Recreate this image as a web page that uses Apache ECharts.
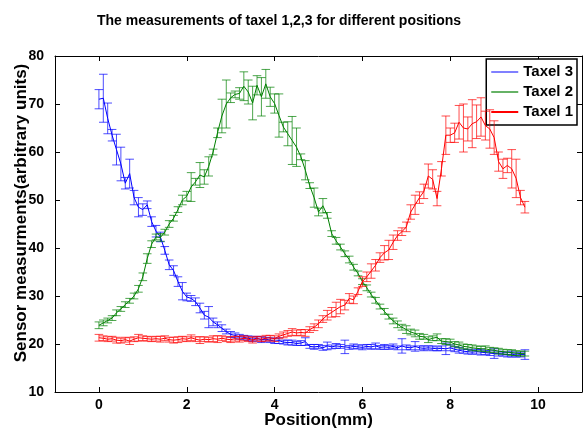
<!DOCTYPE html>
<html>
<head>
<meta charset="utf-8">
<script src="https://cdn.jsdelivr.net/npm/echarts@6/dist/echarts.min.js"></script>
<style>html,body{margin:0;padding:0;background:#fff}#c{width:587px;height:430px}</style>
</head>
<body>
<div id="c"></div>
<script>
const positions = [0,0.1,0.2,0.3,0.4,0.5,0.6,0.7,0.8,0.9,1.0,1.1,1.2,1.3,1.4,1.5,1.6,1.7,1.8,1.9,2.0,2.1,2.2,2.3,2.4,2.5,2.6,2.7,2.8,2.9,3.0,3.1,3.2,3.3,3.4,3.5,3.6,3.7,3.8,3.9,4.0,4.1,4.2,4.3,4.4,4.5,4.6,4.7,4.8,4.9,5.0,5.1,5.2,5.3,5.4,5.5,5.6,5.7,5.8,5.9,6.0,6.1,6.2,6.3,6.4,6.5,6.6,6.7,6.8,6.9,7.0,7.1,7.2,7.3,7.4,7.5,7.6,7.7,7.8,7.9,8.0,8.1,8.2,8.3,8.4,8.5,8.6,8.7,8.8,8.9,9.0,9.1,9.2,9.3,9.4,9.5,9.6,9.7];

const taxel3 = [71.0,71.2,67.0,63.5,60.5,57.5,53.5,55.5,50.5,48.5,48.0,49.0,45.5,43.5,42.3,39.5,36.5,35.3,33.0,31.0,29.8,29.5,28.8,27.5,26.0,25.6,24.6,24.0,23.3,22.6,22.0,21.8,21.5,21.4,21.2,21.0,21.2,20.9,21.0,20.8,20.6,20.7,20.4,20.3,20.3,20.1,20.2,20.5,19.5,19.4,19.5,19.2,19.6,19.4,19.6,19.5,19.4,19.3,19.5,19.4,19.3,19.5,19.4,19.6,19.3,19.4,19.3,19.5,19.2,19.6,19.3,19.2,19.5,19.2,19.1,19.2,19.1,19.0,19.1,19.0,19.2,18.9,18.7,18.5,18.4,18.3,18.4,18.3,18.2,18.1,18.0,18.0,17.9,17.8,17.9,17.7,17.8,17.8];
const taxel3Err = [2.0,5.0,3.2,1.2,3.2,3.5,1.2,3.0,1.5,2.0,1.2,0.8,1.0,1.2,1.0,0.8,1.0,1.0,1.0,1.8,0.8,0.6,0.8,1.0,0.8,2.2,0.8,0.6,0.7,0.5,0.6,0.5,0.5,0.4,0.5,0.5,0.4,0.6,0.4,0.5,0.5,0.6,0.4,0.5,0.5,0.4,0.5,0.8,0.4,0.5,0.4,0.5,0.8,0.4,0.5,0.4,1.4,0.4,0.5,0.4,0.5,0.4,0.5,0.6,0.4,0.5,0.4,0.5,0.4,1.5,0.5,0.4,1.0,0.4,0.5,0.4,0.5,0.4,0.5,1.2,0.6,0.5,0.6,0.4,0.5,0.4,0.5,0.6,0.4,0.5,1.0,0.5,0.4,0.5,0.6,0.4,0.5,1.0];

const taxel2 = [23.9,24.4,24.9,25.4,26.5,27.3,28.2,29.0,30.0,31.5,34.0,37.8,40.8,42.3,42.2,43.3,45.0,46.2,48.0,50.0,50.8,52.7,53.8,55.2,54.8,57.0,60.0,64.0,67.5,70.0,71.3,72.0,72.2,73.7,72.5,70.2,73.9,71.5,74.2,71.5,70.1,67.6,65.2,63.8,62.4,61.0,59.0,56.2,53.0,50.5,47.5,48.8,46.8,43.0,41.5,40.2,38.8,37.6,36.0,34.7,33.0,31.7,30.3,29.1,27.8,26.8,25.7,24.8,24.1,23.5,23.0,22.5,22.2,21.6,21.5,20.9,21.2,21.4,20.6,20.5,20.4,20.0,19.8,19.5,19.4,19.2,19.1,19.0,19.0,18.8,18.7,18.5,18.4,18.3,18.2,18.1,18.0,18.0];
const taxel2Err = [0.7,0.6,0.5,0.5,0.6,0.5,0.6,0.5,0.6,0.7,0.8,1.0,0.7,0.6,0.8,0.6,0.7,0.6,0.6,1.0,1.0,3.0,0.7,2.6,1.5,2.0,0.6,1.0,3.5,5.0,1.0,0.7,1.2,3.0,2.5,3.5,2.0,4.0,3.0,2.0,2.0,4.5,1.0,2.5,5.0,4.0,0.6,2.0,0.6,2.0,0.8,1.5,0.6,0.6,0.7,0.6,0.6,0.7,0.6,0.5,0.6,0.6,0.5,0.6,0.5,0.6,0.5,0.6,0.7,0.6,0.8,0.6,0.7,0.6,0.5,0.6,0.5,0.7,0.5,0.6,0.6,0.5,0.6,0.5,0.5,0.6,0.5,0.5,0.6,0.5,0.5,0.6,0.5,0.5,0.6,0.5,0.5,0.5];

const taxel1 = [21.3,21.2,21.0,21.1,20.8,20.7,20.9,20.6,21.0,21.3,21.2,21.1,21.0,21.1,21.0,21.2,20.9,20.8,20.9,21.1,21.0,21.3,21.0,20.8,21.0,20.9,21.1,21.0,21.2,21.0,20.9,21.1,21.0,21.2,21.0,20.8,21.1,21.0,21.2,21.3,21.1,21.6,21.9,22.2,22.5,22.3,22.4,22.3,23.0,23.5,24.2,25.2,26.0,26.6,27.2,27.8,28.1,29.5,29.2,31.0,33.0,34.0,35.2,36.4,38.0,39.0,39.6,41.2,42.6,43.4,44.4,47.5,49.0,50.5,51.8,55.0,54.3,50.3,56.5,63.5,63.5,64.0,66.2,65.0,64.8,65.9,66.3,67.3,65.5,64.8,63.0,58.0,56.5,57.2,56.5,54.5,50.5,48.5];
const taxel1Err = [0.7,0.5,0.5,0.5,0.6,0.5,0.5,0.7,0.5,0.7,0.5,0.5,0.5,0.5,0.6,0.5,0.5,0.6,0.6,0.5,0.5,0.6,0.5,0.7,0.5,0.5,0.6,0.7,0.5,0.5,0.6,0.5,0.6,0.5,0.5,0.6,0.5,0.5,0.6,0.5,0.6,0.5,0.6,0.6,0.7,0.6,0.6,0.7,0.6,0.7,0.8,0.7,1.0,1.0,1.5,1.5,1.0,1.0,0.8,0.7,1.0,1.0,1.5,1.2,1.0,1.5,2.0,1.5,1.0,0.8,1.0,1.5,2.0,1.2,1.5,2.5,2.0,1.5,1.5,4.0,1.5,2.0,3.5,5.0,2.5,5.0,3.5,4.0,3.0,4.0,3.5,2.0,2.0,1.5,4.0,4.0,1.5,1.2];

const xTicks = [0,2,4,6,8,10];
const FONT = 'Liberation Sans, Arial, sans-serif';

function pairs(vals){ return positions.map((x,i)=>[x, vals[i]]); }
function bars(vals, errs){ return positions.map((x,i)=>[x, vals[i]-errs[i], vals[i]+errs[i]]); }

function errSeries(name, vals, errs, color, z){
  return {
    type:'custom', name:name, z:z, silent:true,
    data: bars(vals, errs),
    encode:{x:0, y:[1,2]},
    renderItem:function(params, api){
      const x=api.value(0), lo=api.value(1), hi=api.value(2);
      const a=api.coord([x,hi]), b=api.coord([x,lo]);
      const w=4.3;
      const st={stroke:color, lineWidth:1, opacity:0.7};
      return {type:'group', children:[
        {type:'line', shape:{x1:a[0],y1:a[1],x2:b[0],y2:b[1]}, style:st},
        {type:'line', shape:{x1:a[0]-w,y1:a[1],x2:a[0]+w,y2:a[1]}, style:st},
        {type:'line', shape:{x1:b[0]-w,y1:b[1],x2:b[0]+w,y2:b[1]}, style:st}
      ]};
    }
  };
}
function lineSeries(name, vals, color, z){
  return {type:'line', name:name, z:z, data:pairs(vals), showSymbol:false, symbol:'none',
    lineStyle:{color:color, width:1}, itemStyle:{color:color}, silent:true};
}

const chart = echarts.init(document.getElementById('c'), null, {renderer:'canvas'});
chart.setOption({
  animation:false,
  backgroundColor:'#fff',
  title:{text:'The measurements of taxel 1,2,3 for different positions', left:92, top:9,
    textStyle:{fontFamily:FONT, fontSize:14, fontWeight:'bold', color:'#000'}},
  legend:{
    orient:'vertical', right:10, top:59,
    backgroundColor:'#fff', borderColor:'#000', borderWidth:1.5, borderRadius:0,
    padding:[5,4,5,5], itemGap:4, itemWidth:27, itemHeight:2, icon:'rect',
    textStyle:{fontFamily:FONT, fontSize:15, fontWeight:'bold', color:'#000', lineHeight:16},
    data:[
      {name:'Taxel 3', itemStyle:{color:'#8080ff'}},
      {name:'Taxel 2', itemStyle:{color:'#66b266'}},
      {name:'Taxel 1', itemStyle:{color:'#ff0000'}}
    ]
  },
  grid:{left:55, right:5, top:56, bottom:38, containLabel:false, outerBoundsMode:'none'},
  xAxis:[
    {type:'value', min:-1, max:11, position:'bottom',
      name:'Position(mm)', nameLocation:'middle', nameGap:20, nameMoveOverlap:false,
      nameTextStyle:{fontFamily:FONT, fontSize:17, fontWeight:'bold', color:'#000'},
      axisLine:{show:true, onZero:false, lineStyle:{color:'#000', width:1}},
      axisTick:{show:true, inside:true, length:5, customValues:xTicks, lineStyle:{color:'#000'}},
      axisLabel:{show:true, customValues:xTicks, margin:6, fontFamily:FONT, fontSize:14, fontWeight:'bold', color:'#000'},
      splitLine:{show:false}},
    {type:'value', min:-1, max:11, position:'top',
      axisLine:{show:true, onZero:false, lineStyle:{color:'#000', width:1}},
      axisTick:{show:true, inside:true, length:5, customValues:xTicks, lineStyle:{color:'#000'}},
      axisLabel:{show:false}, splitLine:{show:false}}
  ],
  yAxis:[
    {type:'value', min:10, max:80, interval:10, position:'left',
      name:'Sensor measurments(arbitrary units)', nameLocation:'middle', nameGap:25, nameMoveOverlap:false,
      nameTextStyle:{fontFamily:FONT, fontSize:17, fontWeight:'bold', color:'#000', padding:[0,0,0,22]},
      axisLine:{show:true, onZero:false, lineStyle:{color:'#000', width:1}},
      axisTick:{show:true, inside:true, length:5, lineStyle:{color:'#000'}},
      axisLabel:{show:true, margin:11, fontFamily:FONT, fontSize:14, fontWeight:'bold', color:'#000'},
      splitLine:{show:false}},
    {type:'value', min:10, max:80, interval:10, position:'right',
      axisLine:{show:true, onZero:false, lineStyle:{color:'#000', width:1}},
      axisTick:{show:true, inside:true, length:5, lineStyle:{color:'#000'}},
      axisLabel:{show:false}, splitLine:{show:false}}
  ],
  series:[
    errSeries('e3', taxel3, taxel3Err, '#0000ff', 2),
    lineSeries('Taxel 3', taxel3, '#0000ff', 3),
    errSeries('e2', taxel2, taxel2Err, '#008000', 4),
    lineSeries('Taxel 2', taxel2, '#008000', 5),
    errSeries('e1', taxel1, taxel1Err, '#ff0000', 6),
    lineSeries('Taxel 1', taxel1, '#ff0000', 7)
  ]
});
</script>
</body>
</html>
